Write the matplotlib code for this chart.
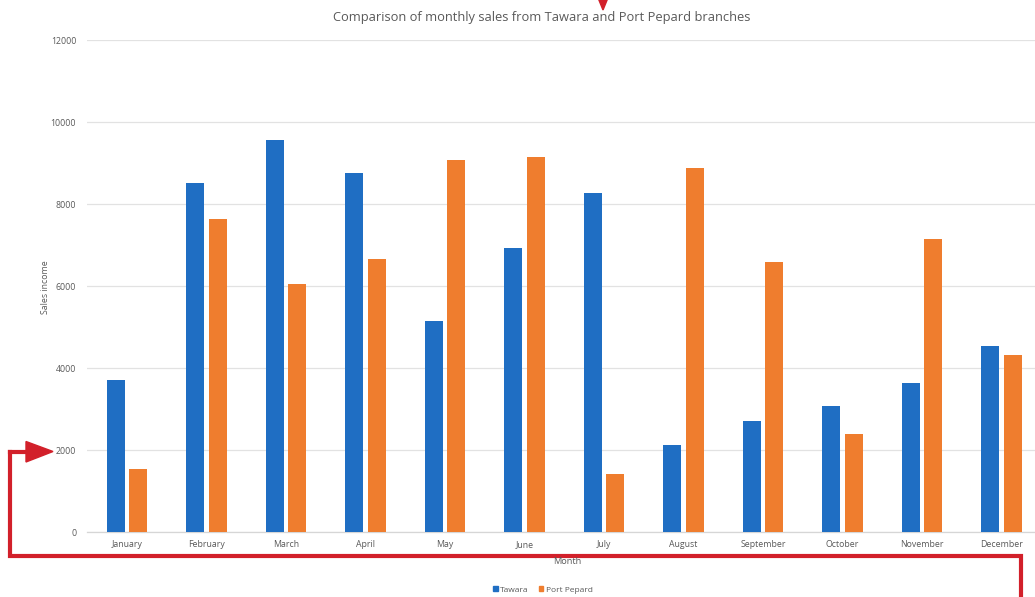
import matplotlib
matplotlib.use("Agg")
import matplotlib.pyplot as plt
from matplotlib.patches import Polygon, Patch
from matplotlib.lines import Line2D
import numpy as np

months = ["January", "February", "March", "April", "May", "June", "July",
          "August", "September", "October", "November", "December"]
tawara = [3700, 8510, 9570, 8760, 5150, 6930, 8260, 2130, 2710, 3080, 3640, 4540]
port_pepard = [1540, 7640, 6040, 6660, 9080, 9150, 1420, 8870, 6590, 2390, 7150, 4320]
yticks = [0, 2000, 4000, 6000, 8000, 10000, 12000]

BLUE = "#1F6EC3"
ORANGE = "#EF7D2E"
RED = "#D2202A"
GREY = "#595959"

W, H = 1035, 597
plt.rcParams['font.family'] = ['Open Sans', 'DejaVu Sans']
fig = plt.figure(figsize=(W / 100, H / 100), dpi=100)

left_px, right_px = 87.25, 1041.25
top_px, bot_px = 40, 532
ax = fig.add_axes([left_px / W, (H - bot_px) / H, (right_px - left_px) / W, (bot_px - top_px) / H])

x = np.arange(len(months))
bw = 0.225
off = 0.143
ax.bar(x - off, tawara, bw, color=BLUE, zorder=3, label="Tawara")
ax.bar(x + off, port_pepard, bw, color=ORANGE, zorder=3, label="Port Pepard")

ax.set_xlim(-0.5, len(months) - 0.5)
ax.set_ylim(0, 12000)
ax.set_yticks(yticks)
ax.set_yticklabels([str(v) for v in yticks])
ax.set_xticks(x)
ax.set_xticklabels(months)
ax.tick_params(axis='both', length=0, labelsize=6.3, colors=GREY)
ax.tick_params(axis='y', pad=8)
ax.tick_params(axis='x', pad=6)
ax.grid(axis='y', color="#E2E2E2", linewidth=0.9, zorder=0)
for s in ["top", "right", "left"]:
    ax.spines[s].set_visible(False)
ax.spines["bottom"].set_color("#D6D6D6")
ax.spines["bottom"].set_linewidth(0.9)

fig.text(46 / W, 1 - 287 / H, "Sales income", rotation=90, ha='center', va='center',
         fontsize=6.3, color=GREY)
fig.text(567 / W, 1 - 562 / H, "Month", ha='center', va='center', fontsize=6.6, color=GREY)
fig.text(542 / W, 1 - 17 / H, "Comparison of monthly sales from Tawara and Port Pepard branches",
         ha='center', va='center', fontsize=9.3, color=GREY)

handles = [Patch(color=BLUE), Patch(color=ORANGE)]
fig.legend(handles, ["Tawara", "Port Pepard"], loc='center', bbox_to_anchor=(543 / W, 1 - 590 / H),
           ncol=2, frameon=False, fontsize=6, handlelength=0.55, handleheight=0.55,
           handletextpad=0.3, columnspacing=1.2, labelcolor=GREY)

# red annotations (figure pixel coords, origin top-left)
def fx(px):
    return px / W

def fy(py):
    return 1 - py / H

lw = 3.0
path_x = [9.5, 9.5, 1020.5, 1020.5]
path_y = [451.5, 556, 556, 600]
fig.add_artist(Line2D([fx(v) for v in path_x], [fy(v) for v in path_y], color=RED,
                      linewidth=lw, solid_joinstyle='miter', solid_capstyle='projecting',
                      transform=fig.transFigure))
fig.add_artist(Line2D([fx(9.5), fx(30)], [fy(451.5), fy(451.5)], color=RED, linewidth=lw,
                      solid_capstyle='projecting', transform=fig.transFigure))
fig.add_artist(Polygon([[fx(26), fy(441.5)], [fx(53), fy(451.5)], [fx(26), fy(462)]],
                       closed=True, color=RED, transform=fig.transFigure))
fig.add_artist(Polygon([[fx(598.5), fy(-1)], [fx(607.5), fy(-1)], [fx(603), fy(10)]],
                       closed=True, color=RED, transform=fig.transFigure))

fig.savefig("out.png", dpi=100)
